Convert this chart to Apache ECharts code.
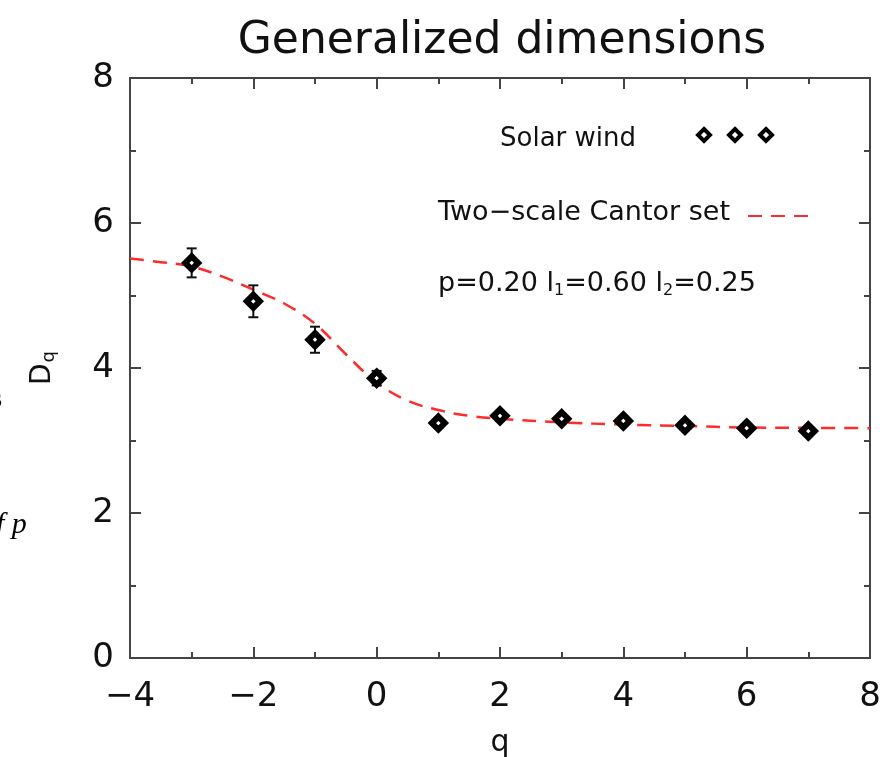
<!DOCTYPE html>
<html>
<head>
<meta charset="utf-8">
<script src="https://cdn.jsdelivr.net/npm/echarts@6/dist/echarts.min.js"></script>
<style>
  html, body { margin: 0; padding: 0; background: #fff; }
  #chart { width: 885px; height: 757px; }
</style>
</head>
<body>
<div id="chart"></div>
<script>
// solar wind points
const qVals = [-3, -2, -1, 0, 1, 2, 3, 4, 5, 6, 7]
const dqVals = [5.45, 4.92, 4.39, 3.86, 3.24, 3.34, 3.30, 3.27, 3.21, 3.17, 3.13]
const dqErr = [0.20, 0.22, 0.18, 0.10, 0.06, 0.06, 0.06, 0.05, 0.05, 0.05, 0.04]

// two-scale cantor set curve
const curveQ = [-4, -3.5, -3, -2.5, -2, -1.5, -1, -0.5, 0, 0.5, 1, 1.5, 2, 3, 4, 5, 6, 7, 8]
const curveD = [5.51, 5.46, 5.40, 5.26, 5.08, 4.89, 4.61, 4.19, 3.80, 3.55, 3.42, 3.34, 3.30, 3.25, 3.22, 3.20, 3.18, 3.175, 3.17]

const xTicks = [-4, -2, 0, 2, 4, 6, 8]
const yTicks = [0, 2, 4, 6, 8]

const font = 'DejaVu Sans'
const axisColor = '#444'

const chart = echarts.init(document.getElementById('chart'))

function axisCommon(showLabel) {
  return {
    axisLine: {show: true, onZero: false, lineStyle: {color: axisColor, width: 2}},
    axisTick: {show: true, inside: true, length: 11, lineStyle: {color: axisColor, width: 2}},
    minorTick: {show: true, splitNumber: 2, length: 6, lineStyle: {color: axisColor, width: 2}},
    splitLine: {show: false},
    axisLabel: {show: showLabel, color: '#111', fontFamily: font, fontSize: 34}
  }
}

function diamond(cx, cy) {
  return {
    type: 'polygon',
    shape: {points: [[cx, cy - 6], [cx + 6, cy], [cx, cy + 6], [cx - 6, cy]]},
    style: {fill: '#fff', stroke: '#000', lineWidth: 4}
  }
}

const option = {
  animation: false,
  title: {
    text: 'Generalized dimensions',
    left: 497,
    top: 15,
    textAlign: 'center',
    textStyle: {fontFamily: font, fontSize: 44, fontWeight: 'normal', color: '#111'}
  },
  grid: {left: 130, right: 15, top: 78, bottom: 99, outerBoundsMode: 'none'},
  xAxis: [
    Object.assign(axisCommon(true), {
      type: 'value', min: -4, max: 8, interval: 2, position: 'bottom',
      name: 'q', nameLocation: 'middle', nameGap: 70,
      nameTextStyle: {fontFamily: font, fontSize: 30, color: '#111'},
      axisLabel: {show: true, margin: 22, color: '#111', fontFamily: font, fontSize: 34,
        formatter: v => xTicks.includes(v) ? String(v).replace('-', '\u2212') : ''}
    }),
    Object.assign(axisCommon(false), {type: 'value', min: -4, max: 8, interval: 2, position: 'top'})
  ],
  yAxis: [
    Object.assign(axisCommon(true), {
      type: 'value', min: 0, max: 8, interval: 2, position: 'left',
      name: '{d|D}{s|q}', nameLocation: 'middle', nameGap: 72,
      nameTextStyle: {
        rich: {
          d: {fontFamily: font, fontSize: 28, color: '#111'},
          s: {fontFamily: font, fontSize: 18, color: '#111', verticalAlign: 'bottom', padding: [12, 0, 0, 1]}
        }
      },
      axisLabel: {show: true, margin: 16, color: '#111', fontFamily: font, fontSize: 34,
        formatter: v => yTicks.includes(v) ? String(v) : ''}
    }),
    Object.assign(axisCommon(false), {type: 'value', min: 0, max: 8, interval: 2, position: 'right'})
  ],
  series: [
    {
      name: 'Two-scale Cantor set',
      type: 'line',
      data: curveQ.map((q, i) => [q, curveD[i]]),
      smooth: 0.4,
      showSymbol: false,
      lineStyle: {color: '#ff2a2a', width: 2.5, type: [14, 9]},
      z: 2
    },
    {
      name: 'errors',
      type: 'custom',
      data: qVals.map((q, i) => [q, dqVals[i] - dqErr[i], dqVals[i] + dqErr[i]]),
      renderItem: function (params, api) {
        const lo = api.coord([api.value(0), api.value(1)])
        const hi = api.coord([api.value(0), api.value(2)])
        const w = 5
        const st = {stroke: '#111', lineWidth: 2}
        return {
          type: 'group',
          children: [
            {type: 'line', shape: {x1: lo[0], y1: lo[1], x2: hi[0], y2: hi[1]}, style: st},
            {type: 'line', shape: {x1: lo[0] - w, y1: lo[1], x2: lo[0] + w, y2: lo[1]}, style: st},
            {type: 'line', shape: {x1: hi[0] - w, y1: hi[1], x2: hi[0] + w, y2: hi[1]}, style: st}
          ]
        }
      },
      z: 3
    },
    {
      name: 'Solar wind',
      type: 'scatter',
      data: qVals.map((q, i) => [q, dqVals[i]]),
      symbol: 'diamond',
      symbolSize: 13,
      itemStyle: {color: '#fff', borderColor: '#000', borderWidth: 6, opacity: 1},
      z: 4
    }
  ],
  graphic: [
    {type: 'text', left: 500, top: 126, style: {text: 'Solar wind', fontFamily: font, fontSize: 26, fill: '#111'}},
    diamond(704, 135), diamond(735, 135), diamond(766, 135),
    {type: 'text', left: 438, top: 199, style: {text: 'Two\u2212scale Cantor set', fontFamily: font, fontSize: 27, fill: '#111'}},
    {type: 'line', shape: {x1: 748, y1: 216, x2: 810, y2: 216}, style: {stroke: '#ff2a2a', lineWidth: 2, lineDash: [14, 9]}},
    {
      type: 'text', left: 438, top: 270,
      style: {
        text: '{t|p=0.20 l}{b|1}{t|=0.60 l}{b|2}{t|=0.25}',
        rich: {
          t: {fontFamily: font, fontSize: 27, fill: '#111', color: '#111'},
          b: {fontFamily: font, fontSize: 16, fill: '#111', color: '#111', padding: [15, 0, 0, 0]}
        }
      }
    },
    // fragments of the surrounding page text, cut by the left edge
    {type: 'text', left: -9, top: 386, style: {text: 's', fontFamily: 'Liberation Serif', fontSize: 28, fontWeight: 'bold', fill: '#000'}},
    {type: 'text', left: -4, top: 510, style: {text: 'f p', fontFamily: 'Liberation Serif', fontSize: 30, fontStyle: 'italic', fill: '#000'}}
  ]
}

chart.setOption(option)
window.onresize = function () {
  chart.resize()
}
</script>
</body>
</html>
